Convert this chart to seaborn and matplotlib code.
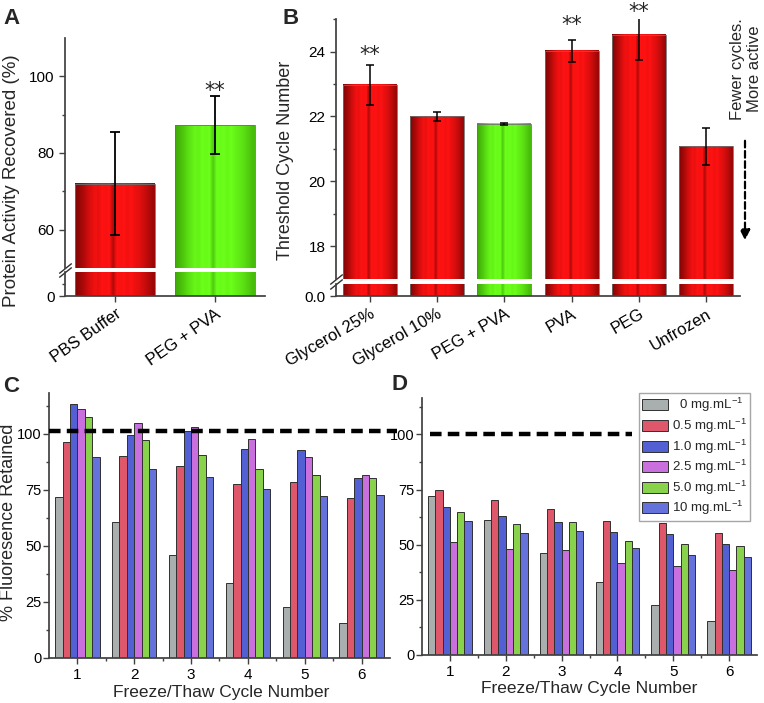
import numpy as np
import pandas as pd
import matplotlib
matplotlib.use('Agg')
import matplotlib.pyplot as plt
import seaborn as sns
from matplotlib.ticker import FixedLocator

# ---- data ----
# panel A
a_labels = ['PBS Buffer', 'PEG + PVA']
a_values = [72.0, 87.3]
a_errors = [13.4, 7.6]
a_kind = ['red', 'green']

# panel B
b_labels = ['Glycerol 25%', 'Glycerol 10%', 'PEG + PVA', 'PVA', 'PEG', 'Unfrozen']
b_values = [22.97, 22.0, 21.78, 24.02, 24.52, 21.08]
b_errors = [0.62, 0.13, 0.03, 0.34, 0.78, 0.56]
b_kind = ['red', 'red', 'green', 'red', 'red', 'red']

# panels C / D
cycles = ['1', '2', '3', '4', '5', '6']
concs = ['0', '0.5', '1.0', '2.5', '5.0', '10']
c_0 = [71.6, 60.7, 46.0, 33.3, 22.5, 15.4]
c_05 = [96.6, 90.0, 85.8, 77.8, 78.5, 71.3]
c_1 = [113.4, 99.6, 101.3, 93.3, 92.8, 80.3]
c_25 = [111.3, 104.8, 103.1, 97.6, 89.9, 81.5]
c_5 = [107.6, 97.2, 90.6, 84.3, 81.8, 80.3]
c_10 = [89.7, 84.2, 80.6, 75.5, 72.1, 72.8]
d_0 = [71.9, 61.0, 46.1, 33.2, 22.7, 15.6]
d_05 = [74.6, 70.1, 66.2, 60.7, 60.0, 55.3]
d_1 = [66.9, 62.8, 60.1, 55.6, 54.7, 50.2]
d_25 = [51.4, 48.0, 47.6, 41.5, 40.5, 38.4]
d_5 = [64.8, 59.2, 60.1, 51.5, 50.2, 49.4]
d_10 = [60.7, 55.3, 56.0, 48.5, 45.3, 44.6]
c_ref = 101.3
d_ref = 100.3

# ---- style ----
sns.set_theme(style='ticks')
plt.rcParams['font.family'] = ['Liberation Sans', 'DejaVu Sans']
plt.rcParams['mathtext.default'] = 'regular'
plt.rcParams['axes.edgecolor'] = '#404040'
plt.rcParams['xtick.color'] = '#404040'
plt.rcParams['ytick.color'] = '#404040'
plt.rcParams['xtick.labelcolor'] = 'black'
plt.rcParams['ytick.labelcolor'] = 'black'

bar_cols = ['#a8b0ae', '#f4405c', '#3d4fe8', '#d65ef0', '#86e836', '#5262f0']
stripe = np.array([0.30, 0.42, 0.55, 0.7, 0.82, 0.93, 0.88, 1, 0.96, 1, 0.55, 1,
                   0.97, 1, 0.92, 1, 0.9, 0.84, 0.76, 0.66, 0.54, 0.42])
shades = {'red': (np.array([0.33, 0.0, 0.0]), np.array([1.0, 0.07, 0.07])),
          'green': (np.array([0.18, 0.55, 0.0]), np.array([0.42, 1.0, 0.1]))}

W, H = 764, 703
fig = plt.figure(figsize=(W / 100, H / 100), dpi=100)


def box(x0, y0, x1, y1):
    return [x0 / W, 1 - y1 / H, (x1 - x0) / W, (y1 - y0) / H]


def grad_bars(ax, labels, values, kinds):
    df = pd.DataFrame({'label': labels, 'value': values})
    pal = {l: shades[k][1] for l, k in zip(labels, kinds)}
    sns.barplot(data=df, x='label', y='value', hue='label', palette=pal, legend=False,
                width=0.8, edgecolor='#707070', linewidth=0.6, ax=ax)
    for p, k in zip(ax.patches, kinds):
        lo, hi = shades[k]
        img = (lo[None, :] + (hi - lo)[None, :] * stripe[:, None])[None, :, :]
        # the image covers exactly the bar rectangle; the axes box clips it
        ax.imshow(img, extent=[p.get_x(), p.get_x() + p.get_width(), p.get_y(), p.get_y() + p.get_height()],
                  aspect='auto', interpolation='bilinear', zorder=2)
        p.set_facecolor('none')
        p.set_zorder(2.5)
    ax.set_xlim(-0.5, len(labels) - 0.5)
    ax.set_xlabel('')
    ax.set_ylabel('')


def broken(ax_top, ax_low):
    ax_top.spines[['top', 'right', 'bottom']].set_visible(False)
    ax_top.tick_params(axis='x', bottom=False, labelbottom=False)
    ax_low.spines[['top', 'right']].set_visible(False)
    kw = dict(marker=[(-1, -0.8), (1, 0.8)], markersize=9, linestyle='none',
              color='#303030', mec='#303030', mew=1, clip_on=False)
    ax_top.plot([0], [0], transform=ax_top.transAxes, **kw)
    ax_low.plot([0], [1], transform=ax_low.transAxes, **kw)


def stars(ax, values, errors, marks, ytop):
    for i, (v, e, m) in enumerate(zip(values, errors, marks)):
        if m is None:
            continue
        ax.annotate('**', xy=(i, min(v + e, ytop)), xytext=(0, m), textcoords='offset points',
                    ha='center', va='baseline', fontsize=15, family='DejaVu Sans',
                    annotation_clip=False)


tick_kw = dict(direction='out', length=4, width=1, labelsize=11)

# ---- panel A ----
axA = fig.add_axes(box(65, 38, 265, 268))
axA0 = fig.add_axes(box(65, 272, 265, 296))
for ax in (axA, axA0):
    grad_bars(ax, a_labels, a_values, a_kind)
axA.errorbar(range(len(a_values)), a_values, yerr=a_errors, fmt='none', ecolor='black',
             elinewidth=1.3, capsize=3.5, capthick=1.3, zorder=5)
axA.set_ylim(50, 110)
axA.yaxis.set_major_locator(FixedLocator([60, 80, 100]))
axA.yaxis.set_minor_locator(FixedLocator([70, 90]))
axA0.set_ylim(0, 5)
axA0.set_yticks([0])
axA0.yaxis.set_minor_locator(FixedLocator([2.5]))
broken(axA, axA0)
for ax in (axA, axA0):
    ax.tick_params(**tick_kw)
    ax.tick_params(which='minor', direction='out', length=2.5, width=1)
axA0.set_xticks(range(len(a_labels)))
axA0.set_xticklabels(a_labels, rotation=35, ha='right', rotation_mode='anchor', fontsize=12)
stars(axA, a_values, a_errors, [None, -0.5], 110)
axA.set_ylabel('Protein Activity Recovered (%)', fontsize=13.5)
axA.yaxis.label.set_va('center')
axA.yaxis.set_label_coords(-0.265, 0.378)

# ---- panel B ----
axB = fig.add_axes(box(336, 19, 740, 279))
axB0 = fig.add_axes(box(336, 284, 740, 296))
for ax in (axB, axB0):
    grad_bars(ax, b_labels, b_values, b_kind)
axB.errorbar(range(len(b_values)), b_values, yerr=b_errors, fmt='none', ecolor='black',
             elinewidth=1.1, capsize=3, capthick=1.1, zorder=5)
axB.set_ylim(17, 25)
axB.yaxis.set_major_locator(FixedLocator([18, 20, 22, 24]))
axB.yaxis.set_minor_locator(FixedLocator([19, 21, 23, 25]))
axB0.set_ylim(0, 1)
axB0.set_yticks([0])
axB0.set_yticklabels(['0.0'])
broken(axB, axB0)
for ax in (axB, axB0):
    ax.tick_params(**tick_kw)
    ax.tick_params(which='minor', direction='out', length=2.5, width=1)
axB0.set_xticks(range(len(b_labels)))
axB0.set_xticklabels(b_labels, rotation=30, ha='right', rotation_mode='anchor', fontsize=12)
stars(axB, b_values, b_errors, [3, None, None, 6.5, 0.5, None], 25)
axB.set_ylabel('Threshold Cycle Number', fontsize=13)
axB.yaxis.label.set_va('center')
axB.yaxis.set_label_coords(-0.125, 0.458)
fig.text(746 / W, 1 - 69 / H, 'Fewer cycles.\nMore active', rotation=90, ha='center',
         va='center', fontsize=12, linespacing=1.1)
fig.add_artist(matplotlib.patches.FancyArrowPatch((745 / W, 1 - 138 / H), (745 / W, 1 - 243 / H),
               transform=fig.transFigure, arrowstyle='-|>,head_width=3,head_length=6',
               linestyle=(0, (3, 1.6)), lw=1.6, color='black', mutation_scale=1))

# ---- panels C and D ----
conc_labels = ['  0 mg.mL$^{-1}$'] + [c + ' mg.mL$^{-1}$' for c in concs[1:]]


def long_df(series):
    rows = []
    for lab, vals in zip(conc_labels, series):
        for cyc, v in zip(cycles, vals):
            rows.append({'cycle': cyc, 'conc': lab, 'value': v})
    return pd.DataFrame(rows)


dfC = long_df([c_0, c_05, c_1, c_25, c_5, c_10])
dfD = long_df([d_0, d_05, d_1, d_25, d_5, d_10])

axC = fig.add_axes(box(49, 393, 390, 657.7))
axD = fig.add_axes(box(422, 398, 757, 655))
for ax, df, top, show in ((axC, dfC, 118.3, False), (axD, dfD, 116.5, True)):
    sns.barplot(data=df, x='cycle', y='value', hue='conc', hue_order=conc_labels,
                palette=bar_cols, width=0.78, edgecolor='#303030', linewidth=0.7,
                legend=show, ax=ax)
    ax.set_ylim(0, top)
    ax.set_xlim(-0.5, 5.5)
    ax.set_yticks([0, 25, 50, 75, 100])
    ax.yaxis.set_minor_locator(FixedLocator([12.5, 37.5, 62.5, 87.5, 112.5]))
    ax.xaxis.set_minor_locator(FixedLocator([0.5, 1.5, 2.5, 3.5, 4.5]))
    ax.tick_params(**tick_kw)
    ax.tick_params(axis='y', labelsize=10.5, pad=1.5)
    ax.tick_params(which='minor', direction='out', length=2.5, width=1)
    sns.despine(ax=ax)
    ax.set_xlabel('Freeze/Thaw Cycle Number', fontsize=12.5)
    ax.xaxis.label.set_va('center')
    ax.set_ylabel('')

axC.plot([-0.5, 5.62], [c_ref, c_ref], color='black', lw=3.2, linestyle=(0, (2.6, 1.4)),
         clip_on=False, zorder=6)
axD.plot([-0.36, 3.26], [d_ref, d_ref], color='black', lw=3.2, linestyle=(0, (2.6, 1.4)),
         zorder=6)
axC.set_ylabel('% Fluoresence Retained', fontsize=13)
axC.yaxis.label.set_va('center')
axC.yaxis.set_label_coords(-0.12, 0.513)
axC.xaxis.set_label_coords(0.504, -0.133)
axD.xaxis.set_label_coords(0.5, -0.13)

handles, labels = axD.get_legend_handles_labels()
axD.legend(handles, labels, loc='upper right', bbox_to_anchor=(750 / W, 1 - 393 / H),
           bbox_transform=fig.transFigure, borderaxespad=0, frameon=True, fancybox=False,
           edgecolor='#909090', fontsize=9.5, handlelength=2.0, handleheight=0.9,
           labelspacing=0.18, handletextpad=0.25, borderpad=0.25, title=None)

# ---- panel letters ----
for x, y, t in ((3, 8, 'A'), (282, 8, 'B'), (3, 376, 'C'), (391, 374, 'D')):
    fig.text(x / W, 1 - y / H, t, fontsize=16, fontweight='bold', ha='left', va='top')

fig.savefig('out.png', dpi=100, facecolor='white')
